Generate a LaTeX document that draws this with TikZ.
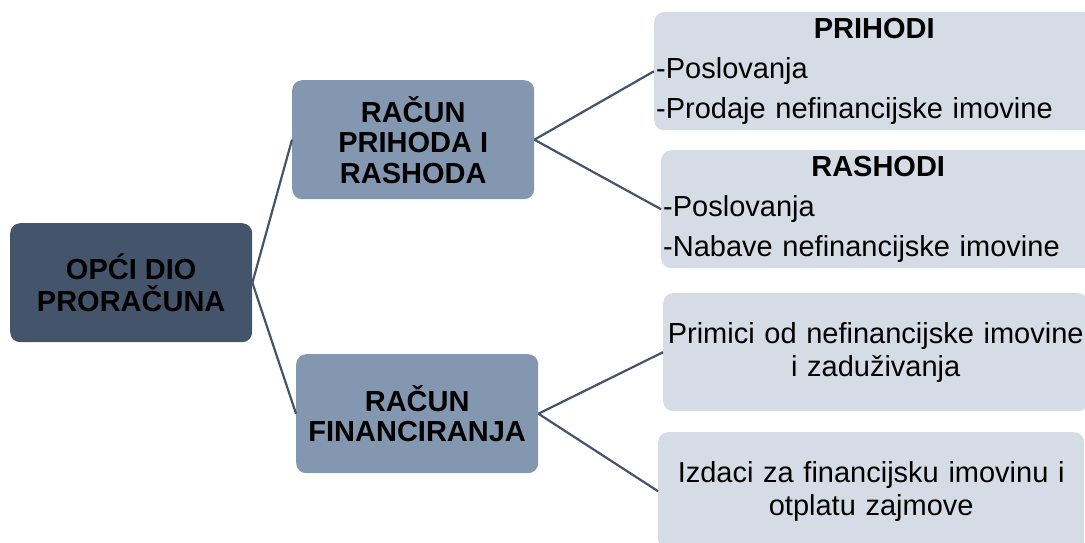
\documentclass[tikz,border=0pt]{standalone}
\usepackage{fontspec}
\setmainfont{Liberation Sans}
\definecolor{rootc}{HTML}{44546A}
\definecolor{midc}{HTML}{8497B0}
\definecolor{leafc}{HTML}{D6DCE5}
\definecolor{linec}{HTML}{44546A}
\begin{document}
\begin{tikzpicture}[x=1pt,y=-1pt,
  box/.style={rectangle, rounded corners=10pt, anchor=north west, inner sep=2pt},
  rootbox/.style={box, fill=rootc, minimum width=242pt, minimum height=119pt, align=center,
    font=\fontsize{29}{32}\selectfont\bfseries},
  midbox/.style={box, fill=midc, minimum width=242pt, minimum height=119pt, align=center,
    font=\fontsize{29}{30.5}\selectfont\bfseries},
  leafbox/.style={box, fill=leafc, minimum height=118pt},
  listleaf/.style={leafbox, font=\fontsize{29}{40}\selectfont},
  textleaf/.style={leafbox, align=center, font=\fontsize{29}{33}\selectfont},
  conn/.style={draw=linec, line width=2.2pt}
]
\useasboundingbox (0,0) rectangle (1085,542);
\node[rootbox] (root) at (10,223) {OPĆI DIO\\PRORAČUNA};
\node[midbox] (m1) at (292,80) {RAČUN\\PRIHODA I\\RASHODA};
\node[midbox] (m2) at (296,354) {RAČUN\\FINANCIRANJA};
\node[listleaf, minimum width=440pt, text width=436pt] (l1) at (654,12)
  {\parskip=0pt\centering\bfseries PRIHODI\par\raggedright\mdseries -Poslovanja\par -Prodaje nefinancijske imovine\par};
\node[listleaf, minimum width=434pt, text width=430pt] (l2) at (661,150)
  {\parskip=0pt\centering\bfseries RASHODI\par\raggedright\mdseries -Poslovanja\par -Nabave nefinancijske imovine\par};
\node[textleaf, minimum width=425pt, text width=421pt] (l3) at (663,293)
  {Primici od nefinancijske imovine\\i zaduživanja};
\node[textleaf, minimum width=426pt, text width=422pt] (l4) at (658,432)
  {Izdaci za financijsku imovinu i\\otplatu zajmove};
\draw[conn] (root.east) -- (m1.west);
\draw[conn] (root.east) -- (m2.west);
\draw[conn] (m1.east) -- (l1.west);
\draw[conn] (m1.east) -- (l2.west);
\draw[conn] (m2.east) -- (l3.west);
\draw[conn] (m2.east) -- (l4.west);
\end{tikzpicture}
\end{document}
